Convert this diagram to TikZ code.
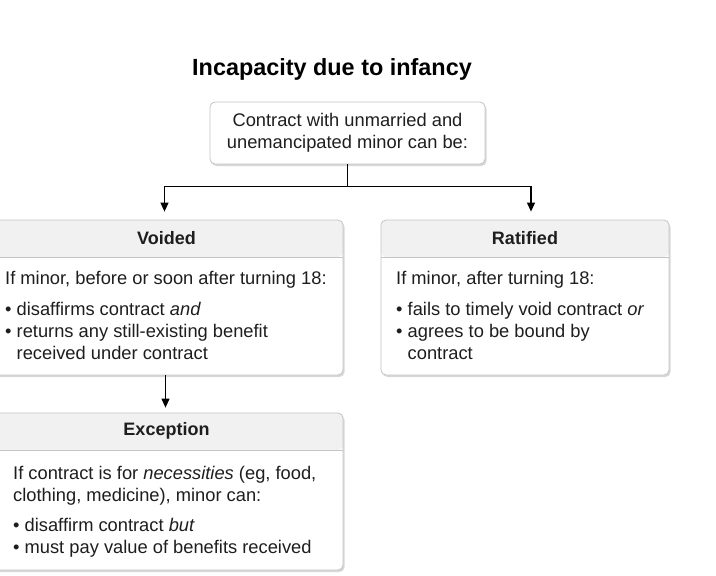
\documentclass[tikz,border=0pt]{standalone}
\usepackage{fontspec}
\setmainfont{Liberation Sans}
\usetikzlibrary{arrows.meta,positioning,shadows}
\definecolor{cardline}{HTML}{C4C4C4}
\definecolor{headgray}{HTML}{F1F1F1}
\definecolor{inktext}{HTML}{1E1E1E}

\begin{document}
\begin{tikzpicture}[x=1pt, y=-1pt,
    plainbox/.style={draw=cardline, fill=white, rounded corners=5pt, line width=0.8pt,
        drop shadow={shadow xshift=1.5pt, shadow yshift=-2pt, opacity=0.3}},
    card/.style={plainbox,
        path picture={
            \fill[headgray] (path picture bounding box.north west) rectangle ([yshift=-37pt]path picture bounding box.north east);
            \draw[cardline, line width=0.8pt] ([yshift=-37pt]path picture bounding box.north west) -- ([yshift=-37pt]path picture bounding box.north east);
        }},
    headtext/.style={font=\bfseries\fontsize{18}{22}\selectfont, text=inktext},
    bodytext/.style={font=\fontsize{18.3}{22}\selectfont, align=left, inner sep=0pt, anchor=north west, text=inktext},
    link/.style={line width=1.2pt, -{Triangle[length=9pt,width=8pt]}}
]
    \fill[white] (0,0) rectangle (716,576);
    \useasboundingbox (0,0) rectangle (716,576);

    \node[font=\bfseries\fontsize{23.4}{28}\selectfont] (title) at (332,69) {Incapacity due to infancy};
    \node[plainbox, minimum width=275pt, minimum height=62pt, align=center, text=inktext,
          font=\fontsize{18.3}{22}\selectfont] (root) at (347.5,133)
        {Contract with unmarried and\\unemancipated minor can be:};

    % voided
    \node[card, minimum width=353pt, minimum height=155pt] (voided) at (166.5,297.5) {};
    \node[headtext] (voidedhead) at ([yshift=-18.5pt]voided.north) {Voided};
    \node[bodytext] (voidedbody) at (5,271)
        {If minor, before or soon after turning 18:\\[9pt]
         • disaffirms contract \textit{and}\\
         • returns any still-existing benefit\\
         \hphantom{• }received under contract};

    % ratified
    \node[card, minimum width=288pt, minimum height=155pt] (ratified) at (525,297.5) {};
    \node[headtext] (ratifiedhead) at ([yshift=-18.5pt]ratified.north) {Ratified};
    \node[bodytext] (ratifiedbody) at (396,271)
        {If minor, after turning 18:\\[9pt]
         • fails to timely void contract \textit{or}\\
         • agrees to be bound by\\
         \hphantom{• }contract};

    % exception
    \node[card, minimum width=353pt, minimum height=157pt] (exception) at (166.5,491.5) {};
    \node[headtext] (exceptionhead) at ([yshift=-18.5pt]exception.north) {Exception};
    \node[bodytext] (exceptionbody) at (13,466)
        {If contract is for \textit{necessities} (eg, food,\\
         clothing, medicine), minor can:\\[8pt]
         • disaffirm contract \textit{but}\\
         • must pay value of benefits received};

    \coordinate (split) at ([yshift=-22pt]root.south);
    \draw[line width=1.2pt] (root.south) -- (split);
    \draw[link, shorten >=8pt] (split) -| ([xshift=-2pt]voided.north);
    \draw[link, shorten >=8pt] (split) -| ([xshift=6pt]ratified.north);
    \draw[link, shorten >=5pt] ([xshift=-1pt]voided.south) -- ([xshift=-1pt]exception.north);
\end{tikzpicture}
\end{document}
